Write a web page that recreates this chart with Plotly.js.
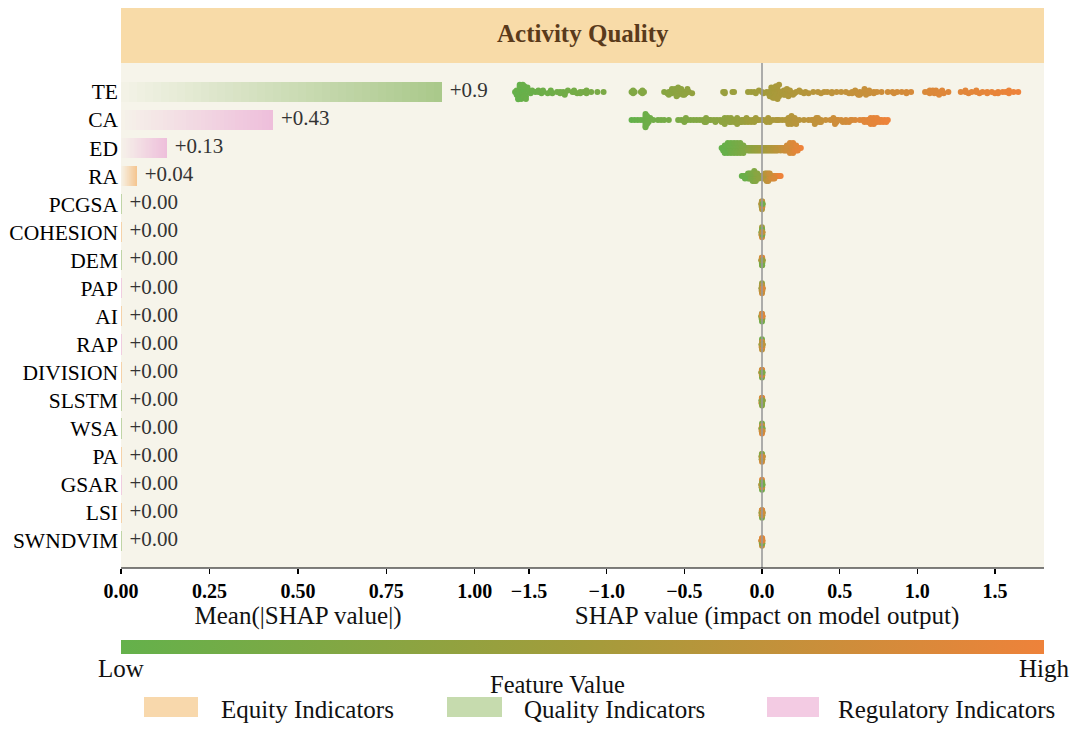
<!DOCTYPE html>
<html>
<head>
<meta charset="utf-8">
<script src="https://cdn.plot.ly/plotly-3.0.1.min.js"></script>
<style>html,body{margin:0;padding:0;background:#fff;}#chart{width:1080px;height:740px;}</style>
</head>
<body>
<div id="chart"></div>
<script>
// ---------------- DATA ----------------
const features = ['TE','CA','ED','RA','PCGSA','COHESION','DEM','PAP','AI','RAP','DIVISION','SLSTM','WSA','PA','GSAR','LSI','SWNDVIM'];
const meanAbsShap = [0.907,0.43,0.13,0.045,0.002,0.002,0.002,0.002,0.002,0.002,0.002,0.002,0.002,0.002,0.002,0.002,0.002];
const barLabels = ['+0.9','+0.43','+0.13','+0.04','+0.00','+0.00','+0.00','+0.00','+0.00','+0.00','+0.00','+0.00','+0.00','+0.00','+0.00','+0.00','+0.00'];
const featureGroups = ['Quality','Regulatory','Regulatory','Equity','Quality','Equity','Quality','Regulatory','Equity','Regulatory','Equity','Quality','Quality','Equity','Regulatory','Equity','Quality'];
const groupNames = ['Equity','Quality','Regulatory'];
const legendLabels = ['Equity Indicators','Quality Indicators','Regulatory Indicators'];
const xTicksLeft = [0,0.25,0.5,0.75,1.0];
const xTicksRight = [-1.5,-1.0,-0.5,0.0,0.5,1.0,1.5];

const TE_shap = [-1.59,-1.58,-1.58,-1.57,-1.57,-1.56,-1.56,-1.55,-1.55,-1.55,-1.54,-1.54,-1.53,-1.53,-1.52,-1.52,-1.51,-1.50,-1.49,-1.48,
 -1.46,-1.44,-1.42,-1.41,-1.38,-1.36,-1.35,-1.32,-1.30,-1.28,-1.27,-1.25,-1.22,-1.21,-1.19,-1.17,-1.15,-1.13,-1.10,-1.06,-1.02,
 -0.84,-0.83,-0.82,-0.78,-0.77,-0.76,
 -0.63,-0.61,-0.60,-0.58,-0.57,-0.56,-0.55,-0.55,-0.54,-0.53,-0.53,-0.52,-0.51,-0.50,-0.49,-0.48,-0.47,-0.45,
 -0.25,-0.24,-0.19,-0.18,
 -0.09,-0.07,-0.05,-0.04,-0.02,0.00,0.01,0.03,
 0.04,0.05,0.06,0.06,0.07,0.07,0.08,0.08,0.09,0.09,0.10,0.11,0.12,
 0.13,0.14,0.15,0.16,0.17,0.18,0.20,0.22,0.25,0.28,0.30,
 0.33,0.36,0.40,0.42,0.45,0.48,0.51,0.54,
 0.56,0.58,0.60,0.61,0.63,0.64,0.66,0.67,0.69,0.72,0.74,0.77,
 0.81,0.84,0.87,0.90,0.93,0.96,
 1.05,1.07,1.08,1.10,1.11,1.12,1.13,1.15,1.17,1.20,
 1.28,1.31,1.33,1.35,1.38,1.40,1.42,1.45,1.48,1.50,1.52,1.55,1.57,1.59,1.62,1.65,
 -1.58,-1.57,-1.56,-1.55,-1.54,-1.53,-1.52,-1.56,-1.57,-1.54,
 -0.60,-0.58,-0.56,-0.55,-0.54,-0.52,-0.50,-0.48,
 0.05,0.06,0.07,0.08,0.08,0.09,0.10,0.11,
 1.08,1.10,1.12,1.14,1.16,
 0.60,0.63,0.66,0.69,
 0.15,0.16,0.18,0.21,0.24,0.27,
 -1.44,-1.41,-1.36,-1.30,-1.27,-1.21,-1.17,-1.13,-0.83,-0.77,-0.24,0.14,0.17,0.20,0.38,0.45,0.58,0.62,0.67,0.72,0.85,0.93,1.31,1.38,1.45,1.52,1.59];
const TE_fv = [0.02,0.01,0.03,0.02,0.00,0.03,0.01,0.02,0.04,0.00,0.03,0.02,0.01,0.04,0.02,0.03,0.05,0.03,0.04,0.05,
 0.05,0.06,0.06,0.07,0.08,0.08,0.09,0.10,0.10,0.11,0.11,0.12,0.13,0.13,0.14,0.14,0.15,0.16,0.16,0.17,0.18,
 0.22,0.22,0.23,0.24,0.25,0.25,
 0.28,0.29,0.29,0.30,0.30,0.31,0.31,0.32,0.32,0.33,0.33,0.34,0.34,0.35,0.35,0.36,0.36,0.37,
 0.42,0.42,0.44,0.44,
 0.46,0.47,0.47,0.48,0.49,0.50,0.50,0.51,
 0.51,0.52,0.52,0.52,0.53,0.53,0.53,0.54,0.54,0.54,0.55,0.55,0.55,
 0.56,0.56,0.57,0.57,0.58,0.58,0.59,0.60,0.61,0.62,0.63,
 0.64,0.65,0.66,0.67,0.68,0.69,0.70,0.71,
 0.71,0.72,0.72,0.73,0.73,0.74,0.74,0.75,0.75,0.76,0.77,0.78,
 0.79,0.80,0.81,0.82,0.83,0.84,
 0.86,0.86,0.87,0.87,0.88,0.88,0.89,0.89,0.90,0.90,
 0.91,0.92,0.92,0.93,0.93,0.94,0.94,0.95,0.95,0.96,0.96,0.97,0.97,0.98,0.99,1.00,
 0.01,0.02,0.03,0.02,0.04,0.03,0.05,0.01,0.00,0.04,
 0.29,0.30,0.31,0.32,0.32,0.33,0.34,0.35,
 0.52,0.52,0.53,0.53,0.54,0.54,0.55,0.55,
 0.87,0.88,0.88,0.89,0.90,
 0.72,0.73,0.74,0.75,
 0.56,0.57,0.58,0.59,0.60,0.61,
 0.06,0.07,0.08,0.10,0.11,0.13,0.14,0.15,0.22,0.25,0.42,0.56,0.58,0.59,0.66,0.68,0.72,0.73,0.74,0.76,0.81,0.83,0.92,0.93,0.95,0.96,0.98];

const CA_shap = [-0.84,-0.82,-0.80,-0.78,-0.76,-0.75,-0.75,-0.75,-0.75,-0.74,-0.74,-0.74,-0.73,-0.73,-0.72,-0.70,-0.67,-0.65,-0.63,-0.60,
 -0.54,-0.52,-0.50,-0.48,-0.46,-0.44,-0.42,-0.40,-0.38,-0.36,-0.34,-0.33,-0.31,-0.29,-0.27,-0.25,-0.24,-0.22,-0.21,-0.19,-0.18,-0.17,-0.16,-0.15,-0.14,-0.13,-0.12,-0.11,-0.10,-0.09,-0.08,-0.06,-0.05,-0.03,-0.02,0.00,
 0.01,0.03,0.05,0.07,0.09,0.11,0.13,0.15,0.16,0.17,0.18,0.19,0.20,0.22,0.24,0.27,0.30,0.32,0.34,0.35,0.36,0.38,0.41,0.44,0.46,0.47,0.48,0.49,0.51,0.54,0.57,0.60,0.63,0.65,0.66,0.68,0.69,0.70,0.72,0.73,0.75,0.77,0.79,0.81,
 -0.75,-0.75,-0.75,-0.74,-0.74,
 -0.36,-0.30,-0.24,-0.20,-0.16,-0.13,-0.10,-0.07,
 0.05,0.10,0.17,0.18,0.19,0.21,0.33,0.35,0.37,0.46,0.47,0.48,0.66,0.68,0.70,0.72,0.74,0.76,
 -0.50,-0.49,-0.37,-0.36,-0.26,-0.24,-0.22,-0.20,-0.18,-0.16,-0.05,-0.04,0.03,0.04,0.17,0.19,0.21,0.22,0.34,0.36,0.38,0.52,0.54,0.56,0.58,0.70,0.72,0.74,0.76,0.78,0.80];
const CA_fv = [0.00,0.01,0.02,0.03,0.04,0.04,0.05,0.05,0.06,0.06,0.07,0.07,0.08,0.08,0.09,0.10,0.11,0.12,0.13,0.14,
 0.17,0.18,0.19,0.20,0.21,0.22,0.23,0.24,0.25,0.26,0.27,0.28,0.29,0.30,0.31,0.32,0.33,0.34,0.35,0.36,0.37,0.38,0.39,0.40,0.41,0.42,0.43,0.44,0.45,0.46,0.47,0.48,0.49,0.50,0.51,0.52,
 0.52,0.53,0.54,0.55,0.56,0.57,0.58,0.59,0.60,0.60,0.61,0.61,0.62,0.63,0.64,0.65,0.67,0.68,0.69,0.70,0.71,0.72,0.74,0.76,0.77,0.78,0.79,0.80,0.81,0.83,0.85,0.87,0.89,0.90,0.91,0.92,0.93,0.94,0.95,0.96,0.97,0.98,0.99,1.00,
 0.05,0.06,0.06,0.07,0.07,
 0.26,0.29,0.32,0.35,0.39,0.42,0.45,0.48,
 0.54,0.57,0.60,0.61,0.62,0.63,0.69,0.70,0.71,0.77,0.78,0.79,0.91,0.92,0.93,0.94,0.95,0.97,
 0.21,0.22,0.27,0.28,0.33,0.34,0.35,0.36,0.37,0.39,0.48,0.49,0.54,0.55,0.61,0.62,0.63,0.64,0.69,0.70,0.71,0.79,0.80,0.82,0.84,0.93,0.94,0.95,0.96,0.98,0.99];

const ED_shap = [-0.26,-0.25,-0.24,-0.24,-0.23,-0.23,-0.22,-0.22,-0.22,-0.21,-0.21,-0.20,-0.20,-0.20,-0.19,-0.19,-0.18,-0.18,-0.18,-0.17,-0.17,-0.16,-0.16,-0.16,-0.15,-0.15,-0.14,-0.14,-0.14,-0.13,-0.13,-0.12,-0.12,-0.11,-0.10,
 -0.09,-0.08,-0.07,-0.06,-0.05,-0.04,-0.03,-0.02,-0.01,0.00,0.01,0.02,0.03,0.04,0.05,0.06,0.07,0.08,0.09,0.10,
 0.11,0.12,0.13,0.14,0.15,0.16,0.17,0.17,0.18,0.18,0.18,0.19,0.19,0.20,0.20,0.20,0.21,0.22,0.23,0.24,0.25,
 -0.25,-0.24,-0.23,-0.22,-0.21,-0.20,-0.19,-0.18,-0.17,-0.16,-0.15,-0.14,-0.13,-0.12,-0.11,
 -0.24,-0.22,-0.20,-0.18,-0.16,-0.14,-0.12,
 -0.08,-0.06,-0.04,-0.02,0.00,0.02,0.04,0.06,0.08,0.10,
 0.12,0.14,0.15,0.16,0.17,0.18,0.19,0.20,0.21,0.22,0.23,
 0.16,0.18,0.20,0.22,
 -0.09,-0.07,-0.05,-0.03,-0.01,0.01,0.03,0.05,0.07,0.09];
const ED_fv = [0.00,0.01,0.02,0.03,0.03,0.04,0.05,0.05,0.06,0.06,0.07,0.08,0.08,0.09,0.09,0.10,0.11,0.11,0.12,0.12,0.13,0.14,0.14,0.15,0.15,0.16,0.17,0.17,0.18,0.19,0.20,0.21,0.22,0.23,0.25,
 0.28,0.30,0.32,0.34,0.36,0.38,0.40,0.42,0.44,0.46,0.48,0.50,0.52,0.54,0.56,0.58,0.60,0.62,0.64,0.66,
 0.68,0.70,0.72,0.74,0.76,0.78,0.80,0.81,0.82,0.83,0.84,0.85,0.86,0.87,0.88,0.89,0.90,0.92,0.94,0.96,1.00,
 0.01,0.02,0.04,0.06,0.07,0.09,0.10,0.12,0.13,0.15,0.16,0.18,0.19,0.21,0.23,
 0.02,0.05,0.08,0.11,0.14,0.17,0.21,
 0.30,0.34,0.38,0.42,0.46,0.50,0.54,0.58,0.62,0.66,
 0.70,0.74,0.76,0.78,0.80,0.82,0.85,0.87,0.89,0.92,0.94,
 0.79,0.83,0.88,0.91,
 0.29,0.33,0.37,0.41,0.45,0.49,0.53,0.57,0.61,0.65];

const RA_shap = [-0.13,-0.12,-0.11,-0.10,-0.09,-0.09,-0.08,-0.08,-0.07,-0.07,-0.06,-0.06,-0.05,-0.05,-0.05,-0.04,-0.04,-0.03,-0.03,-0.02,-0.01,0.00,
 0.01,0.02,0.02,0.03,0.03,0.04,0.04,0.05,0.05,0.06,0.07,0.08,0.09,0.10,0.11,0.12,
 -0.11,-0.09,-0.08,-0.07,-0.06,-0.06,-0.05,-0.05,-0.04,-0.04,-0.03,-0.02,
 0.01,0.02,0.03,0.03,0.04,0.04,0.05,0.06,0.07,0.08];
const RA_fv = [0.00,0.03,0.05,0.07,0.09,0.10,0.12,0.13,0.15,0.16,0.18,0.19,0.21,0.22,0.23,0.25,0.26,0.28,0.30,0.33,0.38,0.45,
 0.55,0.60,0.62,0.65,0.67,0.70,0.72,0.75,0.77,0.80,0.83,0.86,0.89,0.92,0.96,1.00,
 0.04,0.09,0.12,0.15,0.18,0.19,0.21,0.22,0.25,0.26,0.29,0.32,
 0.56,0.61,0.64,0.66,0.69,0.71,0.74,0.79,0.82,0.85];

const PCGSA_shap = [-0.004,-0.003,-0.002,-0.002,-0.001,-0.001,-0.001,0,0,0,0,0.001,0.001,0.001,0.002,0.002,0.003,0.004];
const PCGSA_fv   = [0.9,0.2,0.8,0.1,0.7,0.3,0.9,0.2,0.8,0.1,0.6,0.9,0.3,0.7,0.2,0.8,0.9,0.1];
const COHESION_shap = [-0.003,-0.003,-0.002,-0.002,-0.001,-0.001,0,0,0,0,0,0.001,0.001,0.001,0.002,0.002,0.003];
const COHESION_fv   = [0.1,0.8,0.2,0.9,0.3,0.7,0.1,0.9,0.2,0.8,0.5,0.3,0.9,0.1,0.8,0.2,0.7];
const DEM_shap = [-0.004,-0.003,-0.002,-0.001,-0.001,-0.001,0,0,0,0,0.001,0.001,0.001,0.001,0.002,0.002,0.003,0.004];
const DEM_fv   = [0.2,0.9,0.1,0.8,0.3,0.7,0.9,0.2,0.6,0.1,0.8,0.3,0.9,0.2,0.7,0.1,0.8,0.4];
const PAP_shap = [-0.003,-0.002,-0.002,-0.001,-0.001,-0.001,0,0,0,0,0,0.001,0.001,0.001,0.002,0.002,0.003,0.004];
const PAP_fv   = [0.8,0.1,0.9,0.2,0.7,0.3,0.1,0.9,0.2,0.8,0.4,0.9,0.2,0.7,0.1,0.8,0.3,0.9];
const AI_shap = [-0.004,-0.003,-0.002,-0.002,-0.001,-0.001,-0.001,0,0,0,0,0.001,0.001,0.002,0.002,0.003];
const AI_fv   = [0.1,0.2,0.9,0.1,0.2,0.8,0.1,0.3,0.2,0.9,0.1,0.7,0.2,0.8,0.3,0.9];
const RAP_shap = [-0.003,-0.002,-0.002,-0.001,-0.001,0,0,0,0,0,0.001,0.001,0.001,0.002,0.002,0.003,0.004];
const RAP_fv   = [0.9,0.2,0.8,0.1,0.9,0.3,0.8,0.2,0.7,0.1,0.9,0.2,0.8,0.3,0.9,0.1,0.7];
const DIVISION_shap = [-0.004,-0.003,-0.002,-0.001,-0.001,-0.001,0,0,0,0,0.001,0.001,0.001,0.002,0.002,0.003];
const DIVISION_fv   = [0.8,0.2,0.9,0.1,0.7,0.3,0.9,0.1,0.8,0.2,0.7,0.3,0.9,0.1,0.8,0.2];
const SLSTM_shap = [-0.003,-0.003,-0.002,-0.002,-0.001,-0.001,-0.001,0,0,0,0,0.001,0.001,0.001,0.002,0.003,0.004];
const SLSTM_fv   = [0.2,0.9,0.1,0.8,0.3,0.9,0.2,0.7,0.1,0.9,0.3,0.8,0.2,0.9,0.1,0.8,0.3];
const WSA_shap = [-0.004,-0.002,-0.002,-0.001,-0.001,0,0,0,0,0,0.001,0.001,0.001,0.002,0.002,0.003,0.003];
const WSA_fv   = [0.9,0.1,0.8,0.2,0.9,0.3,0.8,0.1,0.9,0.2,0.7,0.3,0.8,0.1,0.9,0.2,0.8];
const PA_shap = [-0.003,-0.002,-0.002,-0.001,-0.001,-0.001,0,0,0,0,0.001,0.001,0.002,0.002,0.003,0.004];
const PA_fv   = [0.1,0.9,0.2,0.8,0.1,0.7,0.3,0.9,0.2,0.8,0.1,0.9,0.3,0.7,0.2,0.8];
const GSAR_shap = [-0.004,-0.003,-0.002,-0.002,-0.001,-0.001,0,0,0,0,0,0.001,0.001,0.001,0.002,0.003];
const GSAR_fv   = [0.8,0.2,0.9,0.1,0.8,0.3,0.9,0.2,0.7,0.1,0.9,0.3,0.8,0.2,0.9,0.1];
const LSI_shap = [-0.003,-0.002,-0.002,-0.001,-0.001,-0.001,0,0,0,0,0.001,0.001,0.001,0.002,0.002,0.003,0.004];
const LSI_fv   = [0.9,0.1,0.8,0.2,0.9,0.3,0.7,0.1,0.9,0.2,0.8,0.3,0.9,0.1,0.7,0.2,0.8];
const SWNDVIM_shap = [-0.004,-0.003,-0.002,-0.001,-0.001,0,0,0,0,0.001,0.001,0.001,0.002,0.002,0.003];
const SWNDVIM_fv   = [0.8,0.9,0.7,0.2,0.9,0.8,0.1,0.9,0.7,0.8,0.3,0.9,0.8,0.2,0.9];

// ---------------- STYLE ----------------
const SERIF = '"Liberation Serif","Times New Roman","DejaVu Serif",serif';
const BG = '#F6F4EA';
const HEADER = '#F8DBA8';
const groupColor = {Equity:'#F5C48E', Quality:'#A9C88A', Regulatory:'#EEBEDB'};
const legendColor = {Equity:'#F8D8AC', Quality:'#C6DBAE', Regulatory:'#F3CBE3'};
const colorscale = [[0,'#64B14B'],[0.5,'#A39C3B'],[1,'#EE823A']];

const shapRows = [TE_shap,CA_shap,ED_shap,RA_shap,PCGSA_shap,COHESION_shap,DEM_shap,PAP_shap,AI_shap,RAP_shap,DIVISION_shap,SLSTM_shap,WSA_shap,PA_shap,GSAR_shap,LSI_shap,SWNDVIM_shap];
const fvRows = [TE_fv,CA_fv,ED_fv,RA_fv,PCGSA_fv,COHESION_fv,DEM_fv,PAP_fv,AI_fv,RAP_fv,DIVISION_fv,SLSTM_fv,WSA_fv,PA_fv,GSAR_fv,LSI_fv,SWNDVIM_fv];

function hexToRgb(h){h=h.replace('#','');return [parseInt(h.slice(0,2),16),parseInt(h.slice(2,4),16),parseInt(h.slice(4,6),16)];}
function mix(a,b,t){const A=hexToRgb(a),B=hexToRgb(b);return 'rgb('+A.map((v,i)=>Math.round(v+(B[i]-v)*t)).join(',')+')';}

// SHAP-style beeswarm offsets (layout only)
function swarmOffsets(vals,rowHeight,maxStep,cap){
  const N=vals.length,nbins=100;
  let mn=Math.min(...vals),mx=Math.max(...vals);
  const span=(mx-mn)||1;
  const quant=vals.map(v=>Math.round(nbins*(v-mn)/span));
  const inds=vals.map((_,i)=>i).sort((a,b)=>quant[a]-quant[b]||a-b);
  const ys=new Array(N).fill(0);
  let layer=0,last=-1;
  inds.forEach(ind=>{
    if(quant[ind]!==last) layer=0;
    ys[ind]=Math.ceil(layer/2)*((layer%2)*2-1);
    layer++; last=quant[ind];
  });
  const m=Math.max(...ys.map(Math.abs));
  const s=Math.min(maxStep,0.9*(rowHeight/(m+1)));
  return ys.map(y=>Math.max(-cap,Math.min(cap,y*s)));
}

const traces=[];
// gradient bars built from stacked segments
const NSEG=40;
for(let s=0;s<NSEG;s++){
  const t=0.03+0.97*(s+0.5)/NSEG;
  traces.push({
    type:'bar',orientation:'h',xaxis:'x',yaxis:'y',
    x:meanAbsShap.map(v=>v/NSEG),
    y:features.map((_,i)=>i),
    width:0.72,
    marker:{color:features.map((_,i)=>mix(BG,groupColor[featureGroups[i]],t)),line:{width:0}},
    hoverinfo:'skip',showlegend:false
  });
}
// bar labels
traces.push({
  type:'scatter',mode:'text',xaxis:'x',yaxis:'y',
  x:meanAbsShap.map(v=>v+0.022),y:features.map((_,i)=>i),
  text:barLabels,textposition:'middle right',
  textfont:{family:SERIF,size:21,color:'#333333'},
  cliponaxis:false,hoverinfo:'skip',showlegend:false
});
// beeswarm
const bx=[],by=[],bc=[];
shapRows.forEach((row,i)=>{
  const n=Math.min(row.length,fvRows[i].length);
  const vals=row.slice(0,n);
  const off=swarmOffsets(vals,0.4,0.09,0.26);
  for(let k=0;k<n;k++){bx.push(vals[k]);by.push(i+off[k]);bc.push(fvRows[i][k]);}
});
traces.push({
  type:'scatter',mode:'markers',xaxis:'x2',yaxis:'y',
  x:bx,y:by,
  marker:{size:6,color:bc,colorscale:colorscale,cmin:0,cmax:1,line:{width:0},
    showscale:true,
    colorbar:{orientation:'h',x:0.5,xanchor:'center',xref:'paper',len:1,lenmode:'fraction',
      y:-0.1703,yanchor:'bottom',yref:'paper',thickness:14,xpad:0,ypad:0,
      showticklabels:false,ticks:'',outlinewidth:0}},
  hoverinfo:'skip',showlegend:false,cliponaxis:false
});

const PW=923, PH=505;
const px=(p)=>(p-121)/PW;
const py=(p)=>(568-p)/PH;

const shapes=[
  {type:'rect',xref:'paper',yref:'paper',x0:0,x1:1,y0:0,y1:1,fillcolor:BG,line:{width:0},layer:'below'},
  {type:'rect',xref:'paper',yref:'paper',x0:0,x1:1,y0:1,y1:py(8),fillcolor:HEADER,line:{width:0}},
  {type:'line',xref:'x2',yref:'paper',x0:0,x1:0,y0:0,y1:1,line:{color:'#9a9a9a',width:1.6}},
  {type:'line',xref:'paper',yref:'paper',x0:0,x1:1,y0:0,y1:0,line:{color:'#000',width:1.2}}
];
const legendBoxes=[[144,198],[447,502],[767,819]];
const legendTextX=[219,522,836];
const annotations=[
  {xref:'paper',yref:'paper',x:0.5,y:py(34),text:'<b>Activity Quality</b>',showarrow:false,
   font:{family:SERIF,size:25,color:'#5A3A1B'},xanchor:'center',yanchor:'middle'},
  {xref:'paper',yref:'paper',x:0,y:py(668),text:'Low',showarrow:false,font:{family:SERIF,size:25,color:'#111'},xanchor:'center',yanchor:'middle'},
  {xref:'paper',yref:'paper',x:1,y:py(668),text:'High',showarrow:false,font:{family:SERIF,size:25,color:'#111'},xanchor:'center',yanchor:'middle'},
  {xref:'paper',yref:'paper',x:px(557),y:py(684),text:'Feature Value',showarrow:false,font:{family:SERIF,size:24.5,color:'#111'},xanchor:'center',yanchor:'middle'}
];
groupNames.forEach((g,i)=>{
  shapes.push({type:'rect',xref:'paper',yref:'paper',x0:px(legendBoxes[i][0]),x1:px(legendBoxes[i][1]),y0:py(717),y1:py(697),fillcolor:legendColor[g],line:{width:0}});
  annotations.push({xref:'paper',yref:'paper',x:px(legendTextX[i]),y:py(709),text:legendLabels[i],showarrow:false,
    font:{family:SERIF,size:25,color:'#111'},xanchor:'left',yanchor:'middle'});
});

const tickFont={family:SERIF,size:20,color:'#000',weight:700};
const layout={
  width:1080,height:740,
  margin:{l:121,r:36,t:63,b:172,pad:0},
  paper_bgcolor:'#ffffff',plot_bgcolor:'rgba(0,0,0,0)',
  barmode:'stack',
  showlegend:false,
  font:{family:SERIF,color:'#000'},
  xaxis:{domain:[0,px(475)],range:[0,1.0005],tickvals:xTicksLeft,tickformat:'.2f',
    ticks:'outside',ticklen:5,tickwidth:1.2,tickcolor:'#000',tickfont:tickFont,
    showgrid:false,zeroline:false,showline:false,anchor:'y',fixedrange:true,
    title:{text:'Mean(|SHAP value|)',font:{family:SERIF,size:25,color:'#111'},standoff:2}},
  xaxis2:{domain:[px(490),1],range:[(490-762)/155.3,(1044-762)/155.3],tickvals:xTicksRight,tickformat:'.1f',
    ticks:'outside',ticklen:5,tickwidth:1.2,tickcolor:'#000',tickfont:tickFont,
    showgrid:false,zeroline:false,showline:false,anchor:'y',fixedrange:true,
    title:{text:'SHAP value (impact on model output)',font:{family:SERIF,size:25,color:'#111'},standoff:2}},
  yaxis:{range:[16.97,-1.03],tickvals:features.map((_,i)=>i),ticktext:features,
    ticks:'',showgrid:false,zeroline:false,showline:false,fixedrange:true,
    tickfont:{family:SERIF,size:21.5,color:'#000'},ticklabelstandoff:2},
  shapes:shapes,
  annotations:annotations
};
Plotly.newPlot('chart',traces,layout,{displayModeBar:false,staticPlot:true});
</script>
</body>
</html>
